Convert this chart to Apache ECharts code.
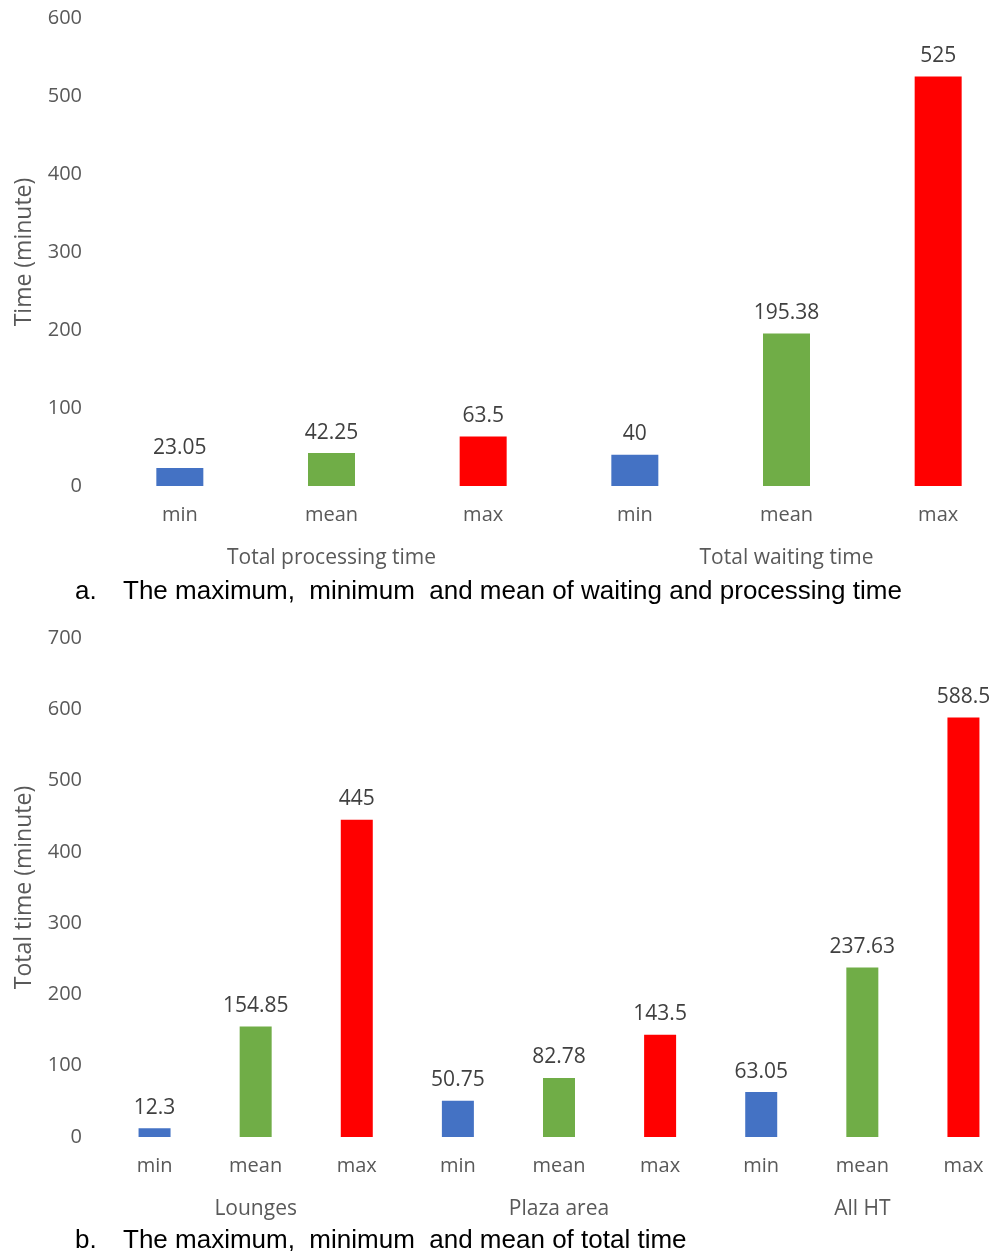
<!DOCTYPE html>
<html>
<head>
<meta charset="utf-8">
<title>Waiting, processing and total time</title>
<script src="https://cdn.jsdelivr.net/npm/echarts@6/dist/echarts.min.js"></script>
<style>
  html, body { margin: 0; padding: 0; background: #fff; }
  #chart { width: 994px; height: 1251px; }
</style>
</head>
<body>
<div id="chart"></div>
<script>
// Panel a: processing and waiting time
const statLabelsA = ['min', 'mean', 'max', 'min', 'mean', 'max'];
const groupsA = ['Total processing time', 'Total waiting time'];
const valuesA = [23.05, 42.25, 63.5, 40, 195.38, 525];
const yTicksA = { min: 0, max: 600, interval: 100 };

// Panel b: total time per area
const statLabelsB = ['min', 'mean', 'max', 'min', 'mean', 'max', 'min', 'mean', 'max'];
const groupsB = ['Lounges', 'Plaza area', 'All HT'];
const valuesB = [12.3, 154.85, 445, 50.75, 82.78, 143.5, 63.05, 237.63, 588.5];
const yTicksB = { min: 0, max: 700, interval: 100 };

const statColors = { min: '#4472C4', mean: '#70AD47', max: '#FF0000' };

const FONT = 'Open Sans';
const GREY = '#595959';

function barData(labels, values) {
  return values.map((v, i) => ({
    value: v,
    itemStyle: { color: statColors[labels[i]] }
  }));
}

function statAxis(gridIndex, labels) {
  return {
    type: 'category', gridIndex, data: labels, position: 'bottom',
    axisLine: { show: false }, axisTick: { show: false },
    axisLabel: { margin: 19, color: GREY, fontFamily: FONT, fontSize: 20, interval: 0 }
  };
}

function groupAxis(gridIndex, groups) {
  return {
    type: 'category', gridIndex, data: groups, position: 'bottom', offset: 42,
    axisLine: { show: false }, axisTick: { show: false },
    axisLabel: { margin: 20, color: GREY, fontFamily: FONT, fontSize: 21, interval: 0 }
  };
}

function valueAxis(gridIndex, ticks, name) {
  return {
    type: 'value', gridIndex, min: ticks.min, max: ticks.max, interval: ticks.interval,
    name, nameLocation: 'middle', nameGap: 68,
    nameTextStyle: { color: GREY, fontFamily: FONT, fontSize: 23 },
    axisLine: { show: false }, axisTick: { show: false }, splitLine: { show: false },
    axisLabel: { margin: 22, color: GREY, fontFamily: FONT, fontSize: 20 }
  };
}

function barSeries(axisIndex, labels, values, width) {
  return {
    type: 'bar', xAxisIndex: axisIndex, yAxisIndex: axisIndex / 2,
    data: barData(labels, values), barWidth: width,
    label: {
      show: true, position: 'top', distance: 10,
      color: '#404040', fontFamily: FONT, fontSize: 21
    },
    silent: true
  };
}

const chart = echarts.init(document.getElementById('chart'), null, { renderer: 'canvas' });

const captionFont = '26px "Liberation Sans", Arial';

chart.setOption({
  animation: false,
  backgroundColor: '#fff',
  grid: [
    { left: 104, top: 18, width: 910, height: 468, outerBoundsMode: 'none' },
    { left: 104, top: 638, width: 910, height: 499, outerBoundsMode: 'none' }
  ],
  xAxis: [
    statAxis(0, statLabelsA), groupAxis(0, groupsA),
    statAxis(1, statLabelsB), groupAxis(1, groupsB)
  ],
  yAxis: [
    valueAxis(0, yTicksA, 'Time (minute)'),
    valueAxis(1, yTicksB, 'Total time (minute)')
  ],
  series: [
    barSeries(0, statLabelsA, valuesA, 47),
    barSeries(2, statLabelsB, valuesB, 32)
  ],
  graphic: [
    { type: 'text', left: 75, top: 579, style: { text: 'a.', font: captionFont, fill: '#000' } },
    { type: 'text', left: 123, top: 579, style: { text: 'The maximum,  minimum  and mean of waiting and processing time', font: captionFont, fill: '#000' } },
    { type: 'text', left: 75, top: 1228, style: { text: 'b.', font: captionFont, fill: '#000' } },
    { type: 'text', left: 123, top: 1228, style: { text: 'The maximum,  minimum  and mean of total time', font: captionFont, fill: '#000' } }
  ]
});
</script>
</body>
</html>
